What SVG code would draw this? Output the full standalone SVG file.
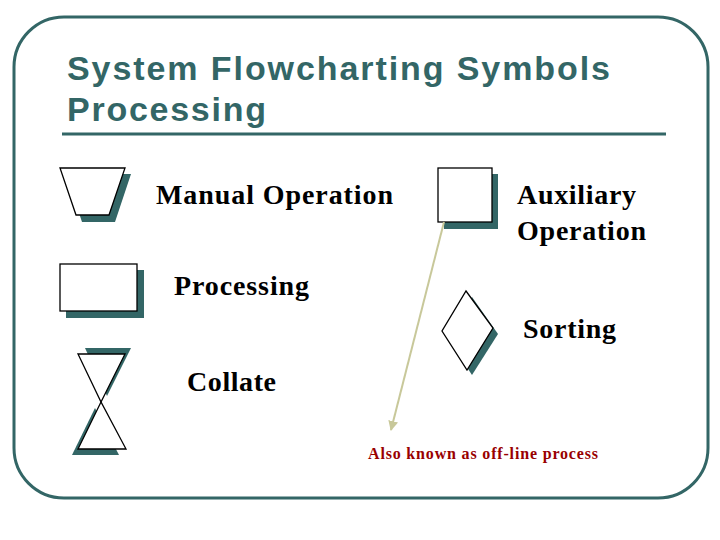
<svg xmlns="http://www.w3.org/2000/svg" width="720" height="540" viewBox="0 0 720 540">
<defs>
<style>
.frame{fill:none;stroke:#336666;stroke-width:3}
.title{font-family:"Liberation Sans",Arial,sans-serif;font-weight:bold;font-size:34px;fill:#336666}
.lbl{font-family:"Liberation Serif","Times New Roman",serif;font-weight:bold;font-size:28px;fill:#000}
.note{font-family:"Liberation Serif","Times New Roman",serif;font-weight:bold;font-size:16px;fill:#990000}
.shadow{fill:#336666;stroke:none}
.shape{fill:#fff;stroke:#000;stroke-width:1.3}
.conn{stroke:#c8c89a;stroke-width:2;fill:none}
</style>
<marker id="ah" viewBox="0 0 10 10" refX="9" refY="5" markerWidth="5" markerHeight="5" orient="auto" markerUnits="strokeWidth">
<path d="M0,0 L10,5 L0,10 z" fill="#c8c89a"/>
</marker>
</defs>
<rect width="720" height="540" fill="#fff"/>
<rect class="frame" x="14" y="17" width="694" height="481" rx="50" ry="50"/>
<g id="title">
<text class="title" x="67" y="80" textLength="543" lengthAdjust="spacing">System Flowcharting Symbols</text>
<text class="title" x="67" y="121" textLength="199" lengthAdjust="spacing">Processing</text>
<line x1="62" y1="134" x2="666" y2="134" stroke="#336666" stroke-width="3"/>
</g>
<g id="manual-operation">
<polygon class="shadow" points="66,174 131,174 115,222 82,222"/>
<polygon class="shape" points="60,168 125,168 109,215 76,215"/>
<text class="lbl" x="156" y="204" textLength="237" lengthAdjust="spacing">Manual Operation</text>
</g>
<g id="processing">
<rect class="shadow" x="66" y="270" width="78" height="48"/>
<rect class="shape" x="60" y="264" width="77" height="47"/>
<text class="lbl" x="174" y="295" textLength="135" lengthAdjust="spacing">Processing</text>
</g>
<g id="collate">
<polygon class="shadow" points="85,348 131,348 107,396"/>
<polygon class="shape" points="78,354 125,354 101,402"/>
<polygon class="shadow" points="95,408 72,455 119,455"/>
<polygon class="shape" points="101,402 78,449 126,449"/>
<text class="lbl" x="187" y="391" textLength="89" lengthAdjust="spacing">Collate</text>
</g>
<g id="auxiliary-operation">
<rect class="shadow" x="444" y="174" width="54" height="55"/>
<rect class="shape" x="438" y="168" width="54" height="54"/>
<text class="lbl" x="517" y="204" textLength="119" lengthAdjust="spacing">Auxiliary</text>
<text class="lbl" x="517" y="240" textLength="129" lengthAdjust="spacing">Operation</text>
</g>
<g id="sorting">
<polygon class="shadow" points="472,297 498,334 472,375 447,337"/>
<polygon class="shape" points="466,291 493,328 467,370 442,331"/>
<text class="lbl" x="523" y="338" textLength="93" lengthAdjust="spacing">Sorting</text>
</g>
<g id="connectors">
<line class="conn" x1="444" y1="222" x2="391" y2="430" marker-end="url(#ah)"/>
</g>
<g id="note">
<text class="note" x="368" y="459" textLength="230" lengthAdjust="spacing">Also known as off-line process</text>
</g>
</svg>
